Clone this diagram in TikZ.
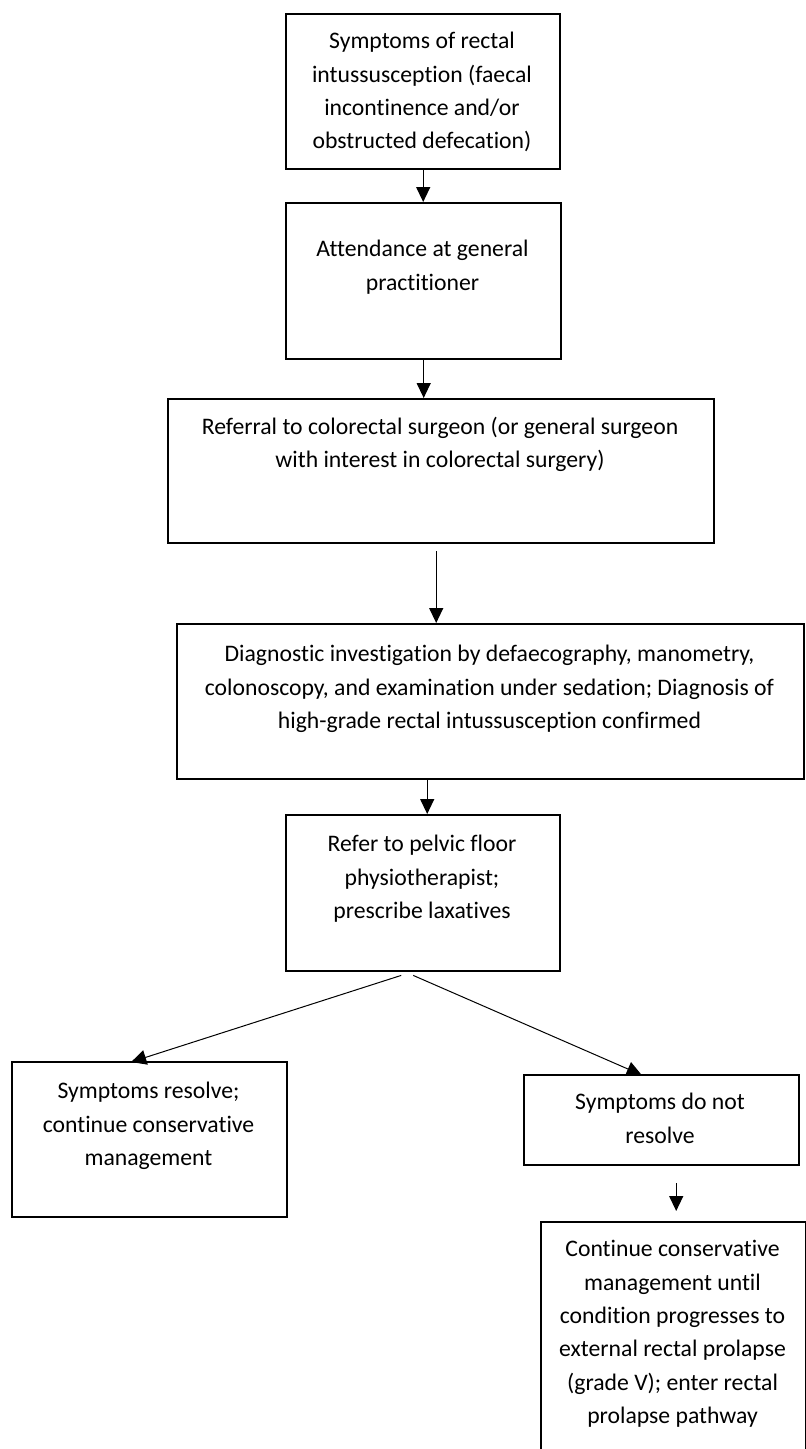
\documentclass[tikz,border=0pt]{standalone}
\usepackage{fontspec}
\setmainfont{Carlito}[Ligatures={NoCommon,NoRequired,NoContextual}]
\usetikzlibrary{arrows.meta}
\newcommand{\fsz}{\fontsize{23.7pt}{33.4pt}\selectfont}
\newcommand{\lst}{\rule[-7pt]{0pt}{24pt}}
\begin{document}
\begin{tikzpicture}[x=1pt,y=-1pt,
  box/.style={draw, line width=2.4pt, inner sep=0pt, anchor=north west},
  txt/.style={align=center, inner sep=0pt, anchor=north, font=\fsz},
  arr/.style={line width=1.3pt, -{Triangle[length=15pt,width=14pt]}},
  diag/.style={line width=1pt, -{Triangle[length=15pt,width=15pt]}}]
\useasboundingbox (0,0) rectangle (806,1449);
\clip (0,0) rectangle (806,1449);
% boxes
\node[box, minimum width=274pt, minimum height=155pt] (b1) at (285,13) {};
\node[box, minimum width=275pt, minimum height=156pt] (b2) at (285,202) {};
\node[box, minimum width=546pt, minimum height=144pt] (b3) at (167,398) {};
\node[box, minimum width=627pt, minimum height=155pt] (b4) at (176,623) {};
\node[box, minimum width=274pt, minimum height=156pt] (b5) at (285,814) {};
\node[box, minimum width=275pt, minimum height=155pt] (b6) at (11,1061) {};
\node[box, minimum width=275pt, minimum height=90pt] (b7) at (523,1074) {};
\node[box, minimum width=265pt, minimum height=260pt] (b8) at (540,1221) {};
% texts
\node[txt] (t1) at (422,31.5) {\lst Symptoms of rectal\\intussusception (faecal\\incontinence and/or\\obstructed defecation)};
\node[txt] (t2) at (422.5,239.5) {\lst Attendance at general\\practitioner};
\node[txt] (t3) at (440,416.5) {\lst Referral to colorectal surgeon (or general surgeon\\with interest in colorectal surgery)};
\node[txt] (t4) at (489.5,644.5) {\lst Diagnostic investigation by defaecography, manometry,\\colonoscopy, and examination under sedation; Diagnosis of\\high-grade rectal intussusception confirmed};
\node[txt] (t5) at (422,834.5) {\lst Refer to pelvic floor\\physiotherapist;\\prescribe laxatives};
\node[txt] (t6) at (148.5,1081.5) {\lst Symptoms resolve;\\continue conservative\\management};
\node[txt] (t7) at (660,1092.5) {\lst Symptoms do not\\resolve};
\node[txt] (t8) at (672.5,1239.5) {\lst Continue conservative\\management until\\condition progresses to\\external rectal prolapse\\(grade V); enter rectal\\prolapse pathway};
% connectors
\coordinate (a7s) at ([xshift=14.5pt,yshift=-17pt]b7.south);
\coordinate (a7e) at ([xshift=2.5pt,yshift=10pt]b8.north);
\draw[arr] (b1.south) -- (b1.south |- b2.north);
\draw[arr] (b2.south) -- (b2.south |- b3.north);
\draw[arr] ([xshift=-5pt,yshift=-7pt]b3.south) -- ([xshift=-5pt]b3.south |- b4.north);
\draw[arr] ([xshift=4pt]b5.north |- b4.south) -- ([xshift=4pt]b5.north);
\draw[diag] ([xshift=-22pt,yshift=-3pt]b5.south) -- ([xshift=-18.5pt,yshift=-1pt]b6.north);
\draw[diag] ([xshift=-10pt,yshift=-3pt]b5.south) -- ([xshift=-20pt,yshift=-1pt]b7.north);
\draw[arr] (a7s) -- (a7e);
\end{tikzpicture}
\end{document}
